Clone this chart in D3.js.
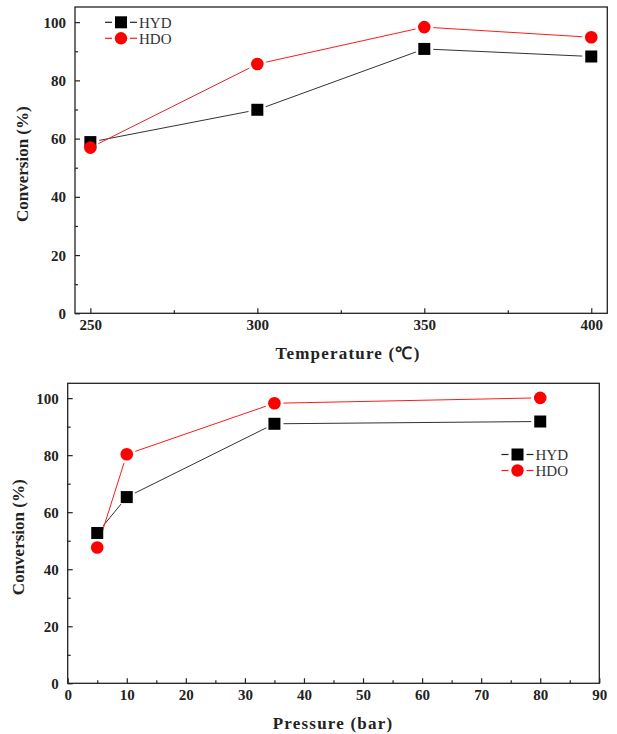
<!DOCTYPE html>
<html>
<head>
<meta charset="utf-8">
<script src="https://cdn.jsdelivr.net/npm/d3@7"></script>
<style>
  html, body { margin: 0; padding: 0; background: #fff; }
  svg { display: block; }
</style>
</head>
<body>
<svg id="chart" width="617" height="734"></svg>
<script>
// Conversion vs. reaction temperature
const temperatures = [250, 300, 350, 400];
const hydByTemp = [58.8, 69.9, 90.8, 88.2];
const hdoByTemp = [56.9, 85.6, 98.3, 94.8];

// Conversion vs. H2 pressure
const pressures = [5, 10, 35, 80];
const hydByPres = [52.7, 65.3, 91.0, 91.8];
const hdoByPres = [47.6, 80.3, 98.2, 100.1];

const seriesNames = ["HYD", "HDO"];
const conversionTicks = [0, 20, 40, 60, 80, 100];
const conversionMinor = [10, 30, 50, 70, 90];
const tempTicks = [250, 300, 350, 400];
const tempMinor = [275, 325, 375];
const presTicks = [0, 10, 20, 30, 40, 50, 60, 70, 80, 90];
const presMinor = [5, 15, 25, 35, 45, 55, 65, 75, 85];

const SERIF = "'Liberation Serif', 'Times New Roman', serif";
const AXIS_COLOR = "#222";
const colors = { HYD: "#000", HDO: "#ff0000" };
const lineColors = { HYD: "#333", HDO: "#ff1a1a" };

const svg = d3.select("#chart");

function drawPanel(cfg) {
  const g = svg.append("g");
  const x = d3.scaleLinear().domain(cfg.xDomain).range([cfg.left, cfg.right]);
  const y = d3.scaleLinear().domain([0, 105.2]).range([cfg.bottom, cfg.top]);

  // frame
  g.append("rect")
    .attr("x", cfg.left).attr("y", cfg.top)
    .attr("width", cfg.right - cfg.left).attr("height", cfg.bottom - cfg.top)
    .attr("fill", "none").attr("stroke", AXIS_COLOR).attr("stroke-width", 1.3);

  // inward ticks: major then minor
  const yAxis = d3.axisLeft(y).tickValues(conversionTicks).tickSize(-5).tickFormat(d3.format("d"));
  const yMinor = d3.axisLeft(y).tickValues(conversionMinor).tickSize(-3).tickFormat("");
  const xAxis = d3.axisBottom(x).tickValues(cfg.xTicks).tickSize(-5).tickFormat(d3.format("d"));
  const xMinor = d3.axisBottom(x).tickValues(cfg.xMinor).tickSize(-3).tickFormat("");

  const styleAxis = (sel, isX) => {
    sel.select(".domain").remove();
    sel.selectAll(".tick line").attr("stroke", AXIS_COLOR).attr("stroke-width", 1.2);
    sel.selectAll(".tick text")
      .attr("fill", AXIS_COLOR)
      .style("font-family", SERIF)
      .style("font-size", "15px")
      .style("font-weight", "bold");
    if (isX) {
      sel.selectAll(".tick text").attr("y", 17).attr("dy", null);
    } else {
      sel.selectAll(".tick text").attr("x", -9).attr("dy", "0.34em");
    }
  };

  g.append("g").attr("transform", `translate(${cfg.left},0)`).call(yAxis).call(s => styleAxis(s, false));
  g.append("g").attr("transform", `translate(${cfg.left},0)`).call(yMinor).call(s => styleAxis(s, false));
  g.append("g").attr("transform", `translate(0,${cfg.bottom})`).call(xAxis).call(s => styleAxis(s, true));
  g.append("g").attr("transform", `translate(0,${cfg.bottom})`).call(xMinor).call(s => styleAxis(s, true));

  // axis titles
  g.append("text")
    .attr("x", cfg.xTitleX).attr("y", cfg.bottom + 46)
    .attr("text-anchor", "middle")
    .attr("fill", AXIS_COLOR)
    .style("font-family", SERIF).style("font-size", "17px").style("font-weight", "bold")
    .style("letter-spacing", "1.2px")
    .text(cfg.xTitle);

  g.append("text")
    .attr("transform", `translate(${cfg.yTitleX},${(cfg.top + cfg.bottom) / 2 + 4}) rotate(-90)`)
    .attr("text-anchor", "middle")
    .attr("fill", AXIS_COLOR)
    .style("font-family", SERIF).style("font-size", "17px").style("font-weight", "bold")
    .text("Conversion (%)");

  // series: connecting segments stop short of the symbols
  const gap = 9;
  const series = [
    { name: "HYD", values: cfg.hyd },
    { name: "HDO", values: cfg.hdo }
  ];
  series.forEach(s => {
    const pts = cfg.xs.map((v, i) => [x(v), y(s.values[i])]);
    const segs = d3.pairs(pts).map(([a, b]) => {
      const dx = b[0] - a[0], dy = b[1] - a[1];
      const len = Math.hypot(dx, dy);
      const ux = dx / len, uy = dy / len;
      return [a[0] + ux * gap, a[1] + uy * gap, b[0] - ux * gap, b[1] - uy * gap];
    });
    g.append("g").selectAll("line").data(segs).join("line")
      .attr("x1", d => d[0]).attr("y1", d => d[1])
      .attr("x2", d => d[2]).attr("y2", d => d[3])
      .attr("stroke", lineColors[s.name]).attr("stroke-width", 1);
  });
  series.forEach(s => {
    const pts = cfg.xs.map((v, i) => [x(v), y(s.values[i])]);
    const mg = g.append("g");
    if (s.name === "HYD") {
      mg.selectAll("rect").data(pts).join("rect")
        .attr("x", d => d[0] - 6).attr("y", d => d[1] - 6)
        .attr("width", 12).attr("height", 12)
        .attr("fill", colors.HYD);
    } else {
      mg.selectAll("circle").data(pts).join("circle")
        .attr("cx", d => d[0]).attr("cy", d => d[1]).attr("r", 6.3)
        .attr("fill", colors.HDO);
    }
  });

  // legend
  const lg = g.append("g");
  seriesNames.forEach((name, i) => {
    const cy = cfg.legendY + i * 16;
    const cx = cfg.legendX;
    const lc = name === "HYD" ? "#222" : "#ff1a1a";
    lg.append("line").attr("x1", cx - 16).attr("x2", cx - 9).attr("y1", cy).attr("y2", cy)
      .attr("stroke", lc).attr("stroke-width", 1.2);
    lg.append("line").attr("x1", cx + 9).attr("x2", cx + 16).attr("y1", cy).attr("y2", cy)
      .attr("stroke", lc).attr("stroke-width", 1.2);
    if (name === "HYD") {
      lg.append("rect").attr("x", cx - 6).attr("y", cy - 6).attr("width", 12).attr("height", 12)
        .attr("fill", colors.HYD);
    } else {
      lg.append("circle").attr("cx", cx).attr("cy", cy).attr("r", 6.2).attr("fill", colors.HDO);
    }
    lg.append("text")
      .attr("x", cx + 18).attr("y", cy + 5.5)
      .attr("fill", "#333")
      .style("font-family", SERIF).style("font-size", "15px")
      .text(name);
  });
}

drawPanel({
  left: 75, right: 607.3, top: 7, bottom: 313.3,
  xDomain: [245.4, 404.8],
  xTicks: tempTicks, xMinor: tempMinor,
  xs: temperatures, hyd: hydByTemp, hdo: hdoByTemp,
  xTitle: "Temperature (\u2103)", xTitleX: 348,
  yTitleX: 28,
  legendX: 121, legendY: 22.3
});

drawPanel({
  left: 67.7, right: 599.3, top: 383.3, bottom: 683.3,
  xDomain: [0, 90],
  xTicks: presTicks, xMinor: presMinor,
  xs: pressures, hyd: hydByPres, hdo: hdoByPres,
  xTitle: "Pressure (bar)", xTitleX: 333,
  yTitleX: 24,
  legendX: 517.5, legendY: 454.5
});
</script>
</body>
</html>
